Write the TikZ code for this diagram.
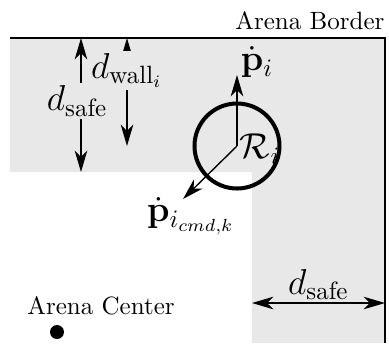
\documentclass[tikz,border=0pt]{standalone}
\usepackage{amsmath,amssymb}
\usepackage{tikz}
\usetikzlibrary{positioning, arrows.meta}

\definecolor{zonegray}{gray}{0.91}

\begin{document}
\begin{tikzpicture}[x=0.4pt, y=-0.4pt,
  wall/.style={line width=0.9pt},
  robot/.style={draw, circle, line width=1.6pt, minimum size=34pt, inner sep=0pt},
  arrow/.style={-{Stealth[length=8.5pt, width=5pt, inset=2.5pt]}, line width=0.55pt},
  dimarrow/.style={{Stealth[length=8.5pt, width=5pt, inset=2.5pt]}-{Stealth[length=8.5pt, width=5pt, inset=2.5pt]}, line width=0.55pt},
  lbl/.style={font=\Large, inner sep=1pt},
  txt/.style={font=\normalsize, inner sep=0pt}
]
\useasboundingbox (0,0) rectangle (389,343);

% safety zone along the border
\fill[zonegray] (10,38) -- (385,38) -- (385,343) -- (252,343) -- (252,172) -- (10,172) -- cycle;
\draw[wall] (10,38) -- (385,38) -- (385,343);

\node[txt, anchor=base east] (border) at (385,29) {Arena Border};

\node[robot] (robot) at (237,146) {};
\node[lbl, anchor=west] (region) at (237,149) {$\mathcal{R}_i$};

\coordinate (safetop) at (81,38);
\coordinate (safebot) at (81,172);
\coordinate (walltop) at (127,38);
\coordinate (pdot) at (237,75);
\coordinate (pcmd) at (183,199);
\coordinate (zoneleft) at (252,303);
\coordinate (zoneright) at (385,303);

\draw[dimarrow] (safetop) -- node[lbl, fill=zonegray, pos=0.47, xshift=-1.5pt] (dsafe) {$d_\text{safe}$} (safebot);
\draw[dimarrow] (walltop) -- node[lbl, fill=zonegray, pos=0.3] (dwall) {$d_{\text{wall}_i}$} (walltop |- robot.center);

\draw[arrow] (robot.center) -- (pdot);
\node[lbl] (pdotlbl) at (257,62) {$\dot{\mathbf{p}}_i$};
\draw[arrow] (robot.center) -- (pcmd);
\node[lbl] (pcmdlbl) at (191,216) {$\dot{\mathbf{p}}_{i_{cmd,k}}$};

\draw[dimarrow] (zoneleft) -- node[lbl, above] (dsafeh) {$d_\text{safe}$} (zoneright);

\node[txt] (centerlbl) at (101,306) {Arena Center};
\node[circle, fill, minimum size=5.6pt, inner sep=0pt] (arenacenter) at (57,332) {};

\end{tikzpicture}
\end{document}
